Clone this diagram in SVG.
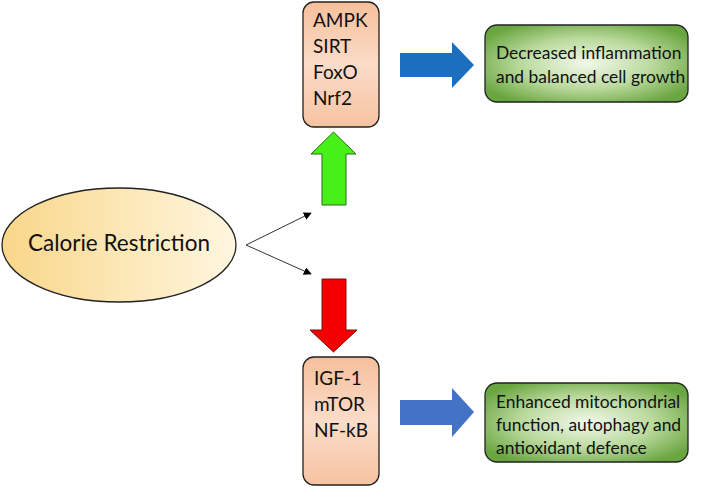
<svg xmlns="http://www.w3.org/2000/svg" width="717" height="496" viewBox="0 0 717 496">
<defs>
<linearGradient id="gEll" x1="0" y1="0" x2="1" y2="0">
<stop offset="0" stop-color="#f9d78a"/>
<stop offset="1" stop-color="#fff6e0"/>
</linearGradient>
<linearGradient id="gBox" x1="0" y1="0" x2="0" y2="1">
<stop offset="0" stop-color="#f6bf9b"/>
<stop offset="0.5" stop-color="#fbdcc8"/>
<stop offset="1" stop-color="#f6c3a2"/>
</linearGradient>
<radialGradient id="gGreen" cx="0.5" cy="0.5" r="0.6">
<stop offset="0" stop-color="#f2f8ea"/>
<stop offset="0.55" stop-color="#b9d99c"/>
<stop offset="1" stop-color="#6aa640"/>
</radialGradient>
<marker id="ah" viewBox="0 0 10 10" refX="9" refY="5" markerWidth="8" markerHeight="8" markerUnits="userSpaceOnUse" orient="auto">
<path d="M0,0 L10,5 L0,10 z" fill="#000"/>
</marker>
</defs>
<style>
.t{font-family:Lato,"Liberation Sans",Arial,sans-serif;fill:#111;}
.box{fill:url(#gBox);stroke:#222;stroke-width:1.3;}
.grn{fill:url(#gGreen);stroke:#222;stroke-width:1.3;}
.conn{stroke:#333;stroke-width:1;fill:none;}
</style>
<g id="calorie">
<ellipse cx="119" cy="245" rx="117" ry="57" fill="url(#gEll)" stroke="#222" stroke-width="1.3"/>
<text class="t" x="119" y="251" font-size="22.5" text-anchor="middle">Calorie Restriction</text>
</g>
<g id="connectors">
<line class="conn" x1="246" y1="245" x2="311" y2="213" marker-end="url(#ah)"/>
<line class="conn" x1="246" y1="245" x2="311" y2="274" marker-end="url(#ah)"/>
<path id="upArrow" d="M322,205 L322,154 L311,154 L333.5,132 L356,154 L346,154 L346,205 Z" fill="#48f01a" stroke="#2b6b1a" stroke-width="1"/>
<path id="downArrow" d="M322,279 L346,279 L346,330 L357,330 L333.5,352 L310,330 L322,330 Z" fill="#f50000" stroke="#7a1010" stroke-width="1"/>
<path id="blueTop" d="M400,53 L452,53 L452,42 L474,65 L452,88 L452,77 L400,77 Z" fill="#1c6fbe"/>
<path id="blueBottom" d="M400,400 L452,400 L452,388 L474,412 L452,437 L452,425 L400,425 Z" fill="#4472c4"/>
</g>
<g id="upBox">
<rect class="box" x="303" y="2" width="76" height="125" rx="11"/>
<text class="t" font-size="19"><tspan x="313" y="27">AMPK</tspan><tspan x="313" y="53">SIRT</tspan><tspan x="313" y="79">FoxO</tspan><tspan x="313" y="105">Nrf2</tspan></text>
</g>
<g id="downBox">
<rect class="box" x="303" y="357" width="76" height="128" rx="11"/>
<text class="t" font-size="19"><tspan x="314" y="385">IGF-1</tspan><tspan x="314" y="411">mTOR</tspan><tspan x="314" y="437">NF-kB</tspan></text>
</g>
<g id="outTop">
<rect class="grn" x="485" y="25" width="203" height="77" rx="12"/>
<text class="t" font-size="17.4"><tspan x="496" y="59">Decreased inflammation</tspan><tspan x="496" y="83">and balanced cell growth</tspan></text>
</g>
<g id="outBottom">
<rect class="grn" x="485" y="383" width="203" height="79" rx="12"/>
<text class="t" font-size="17.4"><tspan x="496" y="408">Enhanced mitochondrial</tspan><tspan x="496" y="431">function, autophagy and</tspan><tspan x="496" y="454">antioxidant defence</tspan></text>
</g>
</svg>
